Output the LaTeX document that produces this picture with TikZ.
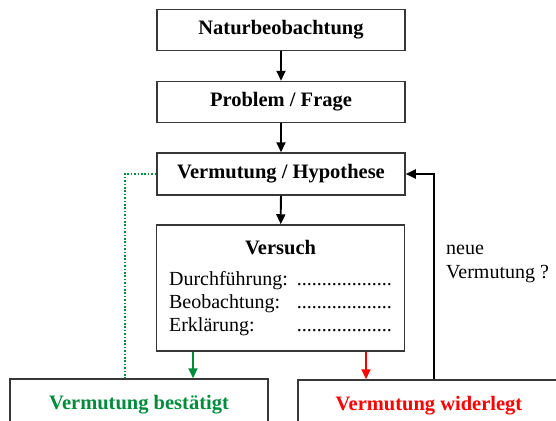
\documentclass[tikz,border=0pt]{standalone}
\usepackage{fontspec}
\setmainfont{Liberation Serif}
\usetikzlibrary{arrows.meta}
\definecolor{okgreen}{RGB}{0,140,60}
\definecolor{boxgray}{RGB}{55,55,55}

\begin{document}
\begin{tikzpicture}[x=1pt,y=-1pt]
\tikzstyle{stepbox}=[draw=boxgray,line width=1.5pt,minimum width=248pt,minimum height=41pt,inner sep=0pt,font=\fontsize{20.5}{24}\selectfont\bfseries]
\tikzstyle{result}=[draw=boxgray,line width=1.5pt,minimum height=52pt,inner sep=0pt,font=\fontsize{20.5}{24}\selectfont\bfseries]
\tikzstyle{flow}=[line width=1.8pt,-{Triangle[width=9pt,length=10pt]}]
\tikzstyle{back}=[okgreen,line width=2pt,dash pattern=on 1.7pt off 1.7pt]
% end of definitions
\clip (0,0) rectangle (556,420);
\node[stepbox] (nature) at (281,30) {Naturbeobachtung};
\node[stepbox] (problem) at (281,102) {Problem / Frage};
\node[stepbox,minimum height=42pt] (guess) at (281,174) {Vermutung / Hypothese};
\node[stepbox,minimum height=126pt,font=\fontsize{20}{23}\selectfont] (test) at (280.5,288) {%
  \begin{tabular}{@{}l@{\hspace{9pt}}l@{}}
  \multicolumn{2}{c}{\bfseries\fontsize{20.5}{24}\selectfont Versuch}\\[8pt]
  Durchführung: & ...................\\
  Beobachtung:  & ...................\\
  Erklärung:    & ...................
  \end{tabular}};
\node[result,minimum width=258pt,text=okgreen] (confirm) at (139,405) {Vermutung bestätigt}; %left result
\node[result,minimum width=262pt,text=red] (refute) at (429,406) {Vermutung widerlegt}; %right result
\node[align=left,font=\fontsize{20}{24}\selectfont,anchor=west,inner sep=0pt] (newguess) at (446,264) {neue\\Vermutung ?};
\draw[flow] (nature) -- (problem);
\draw[flow] (problem) -- (guess);
\draw[flow] (guess) -- (test);
\draw[flow,okgreen] ([xshift=-87.5pt]test.south) -- ([xshift=-87.5pt]test.south |- confirm.north);
\draw[flow,red] ([xshift=85.5pt]test.south) -- ([xshift=85.5pt]test.south |- refute.north);
\draw[back] (guess.west) -| ([xshift=-14pt]confirm.north); %dotted way back
\draw[flow] ([xshift=5pt]refute.north) |- (guess.east);
\end{tikzpicture}
\end{document}
